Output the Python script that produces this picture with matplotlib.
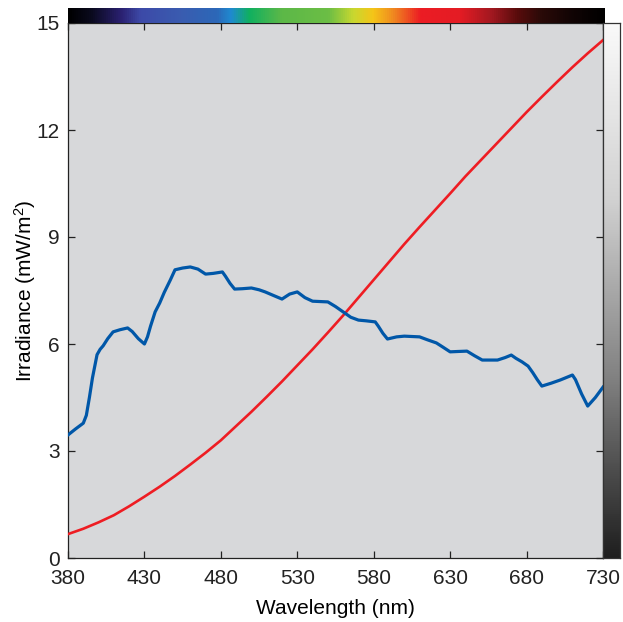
import numpy as np
import matplotlib
matplotlib.use("Agg")
import matplotlib.pyplot as plt
from matplotlib.colors import LinearSegmentedColormap, to_rgb

plt.rcParams['font.family'] = ['Liberation Sans', 'DejaVu Sans']
plt.rcParams['mathtext.default'] = 'regular'

# Blue: measured irradiance
blue_nm = [380, 385, 390, 392, 394, 396, 399, 401, 403, 406, 409.5, 414, 419, 422, 426, 430, 432,
           434, 437, 440, 443, 447, 450, 455, 460, 465, 470, 475, 481, 483, 486, 489, 494, 500,
           505, 509, 515, 520, 525, 530, 535, 540, 545, 550, 555, 560, 565, 570, 575, 581, 583,
           586, 589, 595, 600, 605, 610, 615, 621, 625, 630, 635, 641, 646, 651, 656, 661, 666,
           670, 673, 677, 681, 684, 687, 690, 696, 702, 706, 710, 712, 716, 720, 725, 730]
blue_val = [3.45, 3.62, 3.78, 4.0, 4.5, 5.05, 5.7, 5.85, 5.95, 6.15, 6.34, 6.4, 6.45, 6.35, 6.15, 6.0, 6.2,
            6.5, 6.9, 7.15, 7.45, 7.8, 8.08, 8.13, 8.16, 8.1, 7.96, 7.98, 8.02, 7.9, 7.7, 7.54, 7.55, 7.57,
            7.52, 7.46, 7.35, 7.26, 7.4, 7.46, 7.3, 7.2, 7.19, 7.18, 7.05, 6.9, 6.75, 6.67, 6.65, 6.62, 6.5,
            6.3, 6.14, 6.2, 6.22, 6.21, 6.2, 6.12, 6.03, 5.92, 5.78, 5.79, 5.8, 5.67, 5.55, 5.55, 5.55, 5.62,
            5.69, 5.6, 5.5, 5.38, 5.2, 5.0, 4.82, 4.9, 4.99, 5.06, 5.13, 5.0, 4.6, 4.26, 4.5, 4.79]

# Red: reference spectrum
red_nm = [380, 390, 400, 410, 420, 430, 440, 450, 460, 470, 480, 490, 500, 510, 520, 530, 540, 550,
          560, 570, 580, 590, 600, 610, 620, 630, 640, 650, 660, 670, 680, 690, 700, 710, 720, 730]
red_val = [0.67, 0.82, 1.0, 1.2, 1.45, 1.72, 2.0, 2.3, 2.62, 2.95, 3.3, 3.7, 4.1, 4.52, 4.95, 5.4, 5.85, 6.32,
           6.8, 7.3, 7.8, 8.3, 8.8, 9.28, 9.75, 10.22, 10.7, 11.15, 11.6, 12.05, 12.5, 12.93, 13.35, 13.76, 14.15, 14.52]

x_ticks = [380, 430, 480, 530, 580, 630, 680, 730]
y_ticks = [0, 3, 6, 9, 12, 15]

# spectrum colour anchors (nm, colour)
spec_nm = [380, 395, 414, 427, 453, 477, 486, 498, 519, 550, 566, 579, 592, 610, 636, 657, 673, 689, 710, 730]
spec_col = ['#000000', '#0a0a1e', '#2a2070', '#3d4aa8', '#3a5cb0', '#2c68b8', '#1f8ad0', '#10b060',
            '#5cb848', '#6cbe45', '#c8d830', '#f5c518', '#f08a20', '#ec1c24', '#e41c24', '#a01820',
            '#5a0c0c', '#2a0a08', '#100404', '#000000']

# gray side bar anchors (fraction from bottom, gray level)
gray_pos = [0.0, 0.17, 0.33, 0.5, 0.67, 1.0]
gray_lvl = [0.12, 0.31, 0.5, 0.66, 0.82, 0.98]

W, H = 623, 622
fig = plt.figure(figsize=(W / 100, H / 100), dpi=100)

L, R, T, B = 68, 603, 23, 558
ax = fig.add_axes([L / W, 1 - B / H, (R - L) / W, (B - T) / H])
ax.set_facecolor('#d7d8da')
ax.plot(red_nm, red_val, color='#ee1d23', lw=1.9, zorder=3, solid_joinstyle='round')
ax.plot(blue_nm, blue_val, color='#0057a8', lw=2.3, zorder=4, solid_joinstyle='round')
ax.set_xlim(380, 730)
ax.set_ylim(0, 15)
ax.set_xticks(x_ticks)
ax.set_yticks(y_ticks)
ax.tick_params(direction='in', top=True, right=True, length=5, width=0.9,
               labelsize=15, colors='#222222')
ax.tick_params(axis='x', pad=8)
ax.tick_params(axis='y', pad=6)
for s in ax.spines.values():
    s.set_linewidth(0.9)
    s.set_color('#222222')
ax.set_xlabel('Wavelength (nm)', fontsize=15, labelpad=8)
ax.set_ylabel('Irradiance (mW/m$^2$)', fontsize=15, labelpad=-1)

# top spectrum bar
pos = [(n - 380) / 350 for n in spec_nm]
cmap = LinearSegmentedColormap.from_list('spec', list(zip(pos, [to_rgb(c) for c in spec_col])))
axt = fig.add_axes([L / W, 1 - 23 / H, (605 - L) / W, 15 / H])
axt.imshow(np.linspace(0, 1, 512)[None, :], aspect='auto', cmap=cmap, extent=[0, 1, 0, 1])
axt.axis('off')

# right gray bar
gcmap = LinearSegmentedColormap.from_list('grayramp', list(zip(gray_pos, [(g, g, g) for g in gray_lvl])))
axr = fig.add_axes([603 / W, 1 - B / H, 17 / W, (B - T) / H])
axr.imshow(np.linspace(1, 0, 512)[:, None], aspect='auto', cmap=gcmap,
           vmin=0, vmax=1, extent=[0, 1, 0, 1])
axr.set_xticks([])
axr.set_yticks([])
for s in axr.spines.values():
    s.set_linewidth(0.9)
    s.set_color('#333333')

fig.savefig('out.png', dpi=100)
